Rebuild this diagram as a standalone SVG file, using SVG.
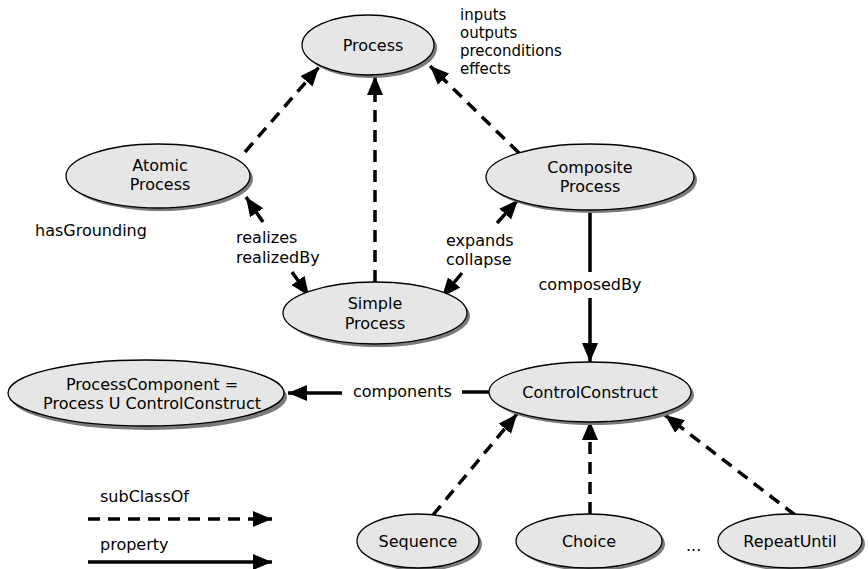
<svg xmlns="http://www.w3.org/2000/svg" width="868" height="569" viewBox="0 0 868 569">
<style>
.n{fill:#e6e6e6;stroke:#000;stroke-width:1.3}
.sh{fill:#7a7a7a}
text{font-family:"DejaVu Sans",Verdana,sans-serif;font-size:16px;fill:#000}
.c{text-anchor:middle}
.sm{font-size:15px}
.d{stroke:#000;stroke-width:3.5;fill:none;stroke-dasharray:12 8}
.s{stroke:#000;stroke-width:3.5;fill:none}
</style>
<defs>
<marker id="a" markerUnits="userSpaceOnUse" markerWidth="20" markerHeight="20" viewBox="0 0 20 20" refX="19" refY="10" orient="auto-start-reverse">
<path d="M0,2 L19,10 L0,18 Z" fill="#000"/>
</marker>
</defs>
<rect width="868" height="569" fill="#fff"/>
<g id="connectors">
<line class="d" x1="245" y1="152" x2="319" y2="67" marker-end="url(#a)"/>
<line class="d" x1="375" y1="282" x2="375" y2="76" marker-end="url(#a)"/>
<line class="d" x1="519" y1="153" x2="430" y2="66" marker-end="url(#a)"/>
<line class="s" x1="263" y1="222" x2="246" y2="197" marker-end="url(#a)"/>
<line class="s" x1="292" y1="272" x2="309" y2="296" marker-end="url(#a)"/>
<line class="s" x1="497" y1="223" x2="518" y2="200" marker-end="url(#a)"/>
<line class="s" x1="462" y1="273" x2="442" y2="297" marker-end="url(#a)"/>
<line class="s" x1="590" y1="210" x2="590" y2="272"/>
<line class="s" x1="590" y1="298" x2="590" y2="362" marker-end="url(#a)"/>
<line class="s" x1="489" y1="392" x2="462" y2="392"/>
<line class="s" x1="342" y1="393" x2="288" y2="393" marker-end="url(#a)"/>
<line class="d" x1="433" y1="515" x2="517" y2="414" marker-end="url(#a)"/>
<line class="d" x1="590" y1="514" x2="590" y2="421" marker-end="url(#a)"/>
<line class="d" x1="795" y1="515" x2="665" y2="415" marker-end="url(#a)"/>
<line class="d" x1="88" y1="519" x2="272" y2="519" marker-end="url(#a)"/>
<line class="s" x1="88" y1="562" x2="272" y2="562" marker-end="url(#a)"/>
</g>
<g id="labels">
<text x="236" y="243">realizes</text>
<text x="236" y="263">realizedBy</text>
<text x="446" y="246">expands</text>
<text x="446" y="265">collapse</text>
<text class="c" x="590" y="290">composedBy</text>
<text x="353" y="397">components</text>
<text class="sm" x="460" y="20">inputs</text>
<text class="sm" x="460" y="38">outputs</text>
<text class="sm" x="460" y="56">preconditions</text>
<text class="sm" x="460" y="74">effects</text>
<text x="35" y="236">hasGrounding</text>
<text x="686" y="551">...</text>
<text x="100" y="502">subClassOf</text>
<text x="100" y="550">property</text>
</g>
<g id="process">
<ellipse class="sh" cx="371" cy="48" rx="66" ry="30"/>
<ellipse class="n" cx="368" cy="45" rx="66" ry="30"/>
<text class="c" x="373" y="51">Process</text>
</g>
<g id="atomic">
<ellipse class="sh" cx="161" cy="179" rx="92" ry="32"/>
<ellipse class="n" cx="158" cy="176" rx="92" ry="32"/>
<text class="c" x="160" y="171">Atomic</text>
<text class="c" x="160" y="190">Process</text>
</g>
<g id="composite">
<ellipse class="sh" cx="593" cy="180" rx="104" ry="33"/>
<ellipse class="n" cx="590" cy="177" rx="104" ry="33"/>
<text class="c" x="590" y="173">Composite</text>
<text class="c" x="590" y="192">Process</text>
</g>
<g id="simple">
<ellipse class="sh" cx="378" cy="316" rx="92" ry="31"/>
<ellipse class="n" cx="375" cy="313" rx="92" ry="31"/>
<text class="c" x="375" y="309">Simple</text>
<text class="c" x="375" y="329">Process</text>
</g>
<g id="processcomponent">
<ellipse class="sh" cx="149" cy="397" rx="138" ry="33"/>
<ellipse class="n" cx="146" cy="393" rx="138" ry="33"/>
<text class="c" x="152" y="390">ProcessComponent =</text>
<text class="c" x="152" y="409">Process U ControlConstruct</text>
</g>
<g id="controlconstruct">
<ellipse class="sh" cx="593" cy="395" rx="101" ry="30"/>
<ellipse class="n" cx="590" cy="392" rx="101" ry="30"/>
<text class="c" x="590" y="398">ControlConstruct</text>
</g>
<g id="sequence">
<ellipse class="sh" cx="421" cy="544" rx="61" ry="27"/>
<ellipse class="n" cx="418" cy="541" rx="61" ry="27"/>
<text class="c" x="418" y="547">Sequence</text>
</g>
<g id="choice">
<ellipse class="sh" cx="592" cy="544" rx="73" ry="27"/>
<ellipse class="n" cx="589" cy="541" rx="73" ry="27"/>
<text class="c" x="589" y="547">Choice</text>
</g>
<g id="repeatuntil">
<ellipse class="sh" cx="793" cy="544" rx="72" ry="27"/>
<ellipse class="n" cx="790" cy="541" rx="72" ry="27"/>
<text class="c" x="790" y="547">RepeatUntil</text>
</g>
</svg>
